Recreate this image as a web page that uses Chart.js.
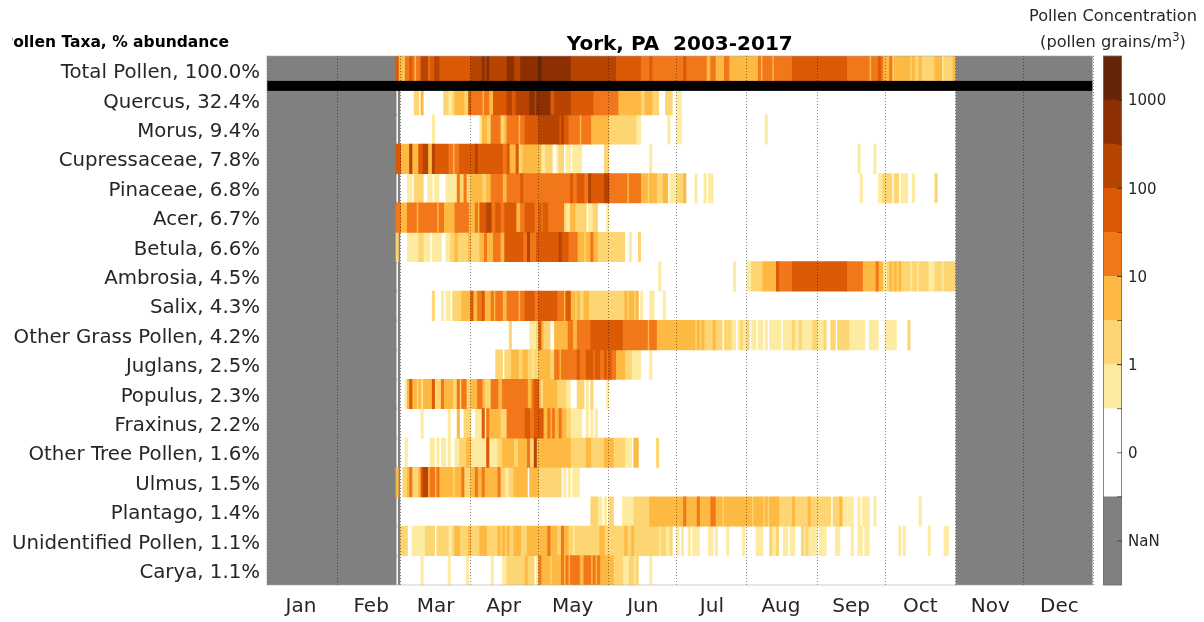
<!DOCTYPE html>
<html><head><meta charset="utf-8">
<script src="https://cdn.jsdelivr.net/npm/chart.js@4/dist/chart.umd.min.js"></script>
<style>
html,body{margin:0;padding:0;background:#fff;width:1204px;height:622px;overflow:hidden;font-family:"DejaVu Sans";color:#262626}
canvas{position:absolute}
.t{position:absolute;white-space:nowrap}
</style></head><body>
<canvas id="main" width="1204" height="622" style="left:0;top:0;width:1204px;height:622px"></canvas>
<canvas id="bar" width="101" height="541" style="left:1103px;top:50px;width:101px;height:541px"></canvas>
<div class="t" style="left:12px;top:31px;width:217px;height:24px;overflow:hidden;"><span id="hdr" style="position:absolute;right:0;top:2px;font:bold 15.5px 'DejaVu Sans';color:#000">Pollen Taxa, % abundance</span></div>
<div class="t" style="left:1013px;width:200px;text-align:center;top:6px;font-size:16.2px;color:#262626">Pollen Concentration</div>
<div class="t" style="left:1013px;width:200px;text-align:center;top:32px;font-size:16.2px;line-height:20px;color:#262626">(pollen grains/m<sup style="font-size:11.5px;line-height:0">3</sup>)</div>
<script>
const taxa = ["Total Pollen, 100.0%","Quercus, 32.4%","Morus, 9.4%","Cupressaceae, 7.8%","Pinaceae, 6.8%","Acer, 6.7%","Betula, 6.6%","Ambrosia, 4.5%","Salix, 4.3%","Other Grass Pollen, 4.2%","Juglans, 2.5%","Populus, 2.3%","Fraxinus, 2.2%","Other Tree Pollen, 1.6%","Ulmus, 1.5%","Plantago, 1.4%","Unidentified Pollen, 1.1%","Carya, 1.1%"];
const months = ["Jan","Feb","Mar","Apr","May","Jun","Jul","Aug","Sep","Oct","Nov","Dec"];
const monthStarts = [0,31,59,90,120,151,181,212,243,273,304,334,365];
const monthMids = [15,46,74.5,104.5,135,166,196.5,227,258,288.5,319.5,350];
const barLabels = ["NaN","0","1","10","100","1000"];
const levelColors = {"-1":"#808080",0:"#ffffff",1:"#FEEBA2",2:"#FDD573",3:"#FEB943",4:"#F2771B",5:"#DC5A05",6:"#B84402",7:"#8C3003",8:"#662506"};
/* each run: [first day of year, colour level]; a run lasts until the next one. -1 = NaN, 0 = zero */
const nanBefore = [0,57], nanAfter = [304,365];
const totalRuns = [[57,5],[58,3],[60,2],[61,4],[63,5],[64,4],[65,3],[66,4],[68,6],[71,4],[72,5],[74,6],[76,5],[90,6],[95,7],[96,6],[97,7],[98,6],[106,7],[109,6],[112,7],[120,8],[121,7],[134,6],[154,5],[165,4],[169,5],[170,4],[184,5],[185,4],[194,3],[196,4],[198,3],[202,4],[204,3],[217,4],[218,3],[219,4],[223,3],[224,4],[232,5],[256,4],[266,3],[267,4],[270,5],[271,4],[272,3],[275,4],[276,2],[277,3],[284,2],[285,3],[286,2],[288,3],[289,2],[295,3],[298,1],[299,2],[303,3],[304,0]];
const quercusRuns = [[58,-1],[59,0],[65,2],[67,0],[68,3],[69,0],[78,2],[80,1],[82,2],[83,3],[87,2],[89,5],[90,4],[95,3],[96,4],[98,3],[100,5],[106,6],[108,5],[110,6],[116,7],[118,6],[119,7],[125,5],[127,6],[134,5],[144,4],[155,3],[165,2],[167,3],[170,2],[173,0],[176,2],[179,0],[181,1],[183,0]];
const morusRuns = [[58,-1],[59,0],[73,1],[74,0],[94,1],[95,3],[97,2],[99,4],[103,2],[105,3],[106,4],[111,3],[112,4],[114,5],[120,6],[129,5],[130,6],[131,5],[133,4],[138,3],[139,4],[143,3],[151,2],[163,1],[165,0],[177,1],[178,0],[181,1],[183,0],[220,1],[221,0]];
const cupressaceaeRuns = [[57,5],[59,3],[63,6],[64,3],[67,5],[69,6],[71,3],[73,6],[74,5],[80,4],[82,3],[83,4],[85,5],[92,6],[93,5],[104,4],[106,5],[107,3],[110,5],[111,2],[113,3],[121,1],[123,2],[126,0],[128,1],[129,2],[131,0],[132,1],[134,0],[135,1],[139,0],[149,2],[151,0],[169,1],[170,0],[261,1],[262,0],[268,1],[269,0]];
const pinaceaeRuns = [[58,-1],[59,0],[62,1],[64,0],[65,2],[69,0],[71,1],[73,0],[74,1],[76,0],[79,1],[84,4],[85,2],[87,4],[88,2],[90,3],[95,2],[97,3],[99,4],[104,3],[106,4],[112,5],[113,4],[134,5],[135,4],[137,5],[140,4],[142,6],[143,5],[149,6],[151,4],[159,3],[160,4],[165,3],[168,2],[169,3],[172,2],[175,3],[177,0],[178,1],[181,2],[184,3],[185,0],[189,1],[190,0],[193,1],[194,0],[195,1],[197,0],[262,1],[263,0],[270,1],[272,2],[276,0],[277,2],[279,0],[280,1],[283,0],[285,1],[286,0],[295,2],[296,0]];
const acerRuns = [[57,4],[59,3],[62,4],[66,3],[67,4],[75,3],[76,4],[78,3],[83,4],[89,3],[92,4],[93,3],[94,5],[97,6],[99,4],[101,5],[103,4],[105,5],[110,3],[112,4],[114,5],[118,4],[120,5],[121,4],[122,5],[124,4],[131,2],[132,1],[134,3],[136,2],[141,0],[142,1],[144,2],[146,0],[150,1],[151,0]];
const betulaRuns = [[57,2],[58,-1],[59,0],[62,1],[67,2],[69,1],[72,0],[73,1],[77,0],[79,1],[81,2],[83,3],[84,2],[89,3],[90,2],[94,3],[96,4],[97,3],[100,4],[103,3],[105,5],[113,4],[115,6],[116,4],[119,5],[129,6],[130,5],[133,4],[137,3],[140,2],[141,3],[143,4],[144,3],[146,2],[158,0],[160,1],[161,0],[164,2],[165,0]];
const ambrosiaRuns = [[58,-1],[59,0],[173,1],[174,0],[206,1],[207,0],[212,1],[214,2],[219,3],[225,5],[226,4],[232,5],[256,4],[263,3],[269,4],[270,3],[272,1],[274,2],[275,3],[276,2],[277,3],[278,2],[279,3],[280,2],[284,1],[285,2],[287,1],[288,2],[292,1],[295,2],[298,1],[299,2],[304,0]];
const salixRuns = [[58,-1],[59,0],[73,2],[74,0],[77,1],[78,0],[79,1],[81,0],[82,2],[86,3],[90,5],[91,3],[93,4],[95,5],[96,3],[99,4],[100,3],[101,4],[104,3],[106,4],[111,3],[112,4],[114,5],[118,4],[120,5],[128,4],[131,3],[132,5],[134,3],[136,2],[137,3],[138,2],[140,3],[142,2],[158,3],[159,2],[160,3],[162,2],[163,3],[164,0],[165,1],[166,0],[169,1],[171,0],[175,1],[176,0]];
const otherGrassRuns = [[58,-1],[59,0],[107,2],[108,0],[116,1],[119,2],[120,5],[121,3],[122,2],[125,0],[127,3],[133,4],[135,3],[137,4],[143,5],[157,4],[168,3],[169,4],[172,3],[189,2],[190,3],[191,2],[192,3],[193,2],[197,3],[198,2],[201,0],[202,2],[205,1],[207,0],[208,1],[209,2],[210,1],[212,2],[213,0],[214,1],[216,0],[217,1],[219,0],[220,1],[221,0],[222,1],[227,0],[228,1],[232,2],[233,1],[235,2],[236,1],[241,2],[243,1],[246,2],[247,0],[249,2],[251,0],[252,2],[257,1],[264,0],[266,1],[270,0],[273,1],[278,0],[283,2],[284,0]];
const juglansRuns = [[58,-1],[59,0],[101,2],[104,0],[105,2],[108,3],[111,2],[113,3],[115,2],[117,1],[118,2],[120,3],[125,2],[127,4],[129,3],[130,4],[137,5],[138,4],[141,5],[144,4],[145,5],[147,4],[149,5],[150,4],[151,5],[152,4],[154,3],[158,2],[161,1],[165,0],[169,1],[170,0]];
const populusRuns = [[58,-1],[59,0],[61,1],[62,3],[63,5],[64,3],[66,2],[67,3],[68,1],[69,3],[73,5],[74,2],[77,4],[78,3],[82,2],[84,4],[85,2],[86,4],[88,2],[90,3],[93,4],[95,3],[96,2],[99,4],[102,3],[104,4],[115,3],[117,4],[118,5],[120,3],[121,1],[122,3],[128,2],[132,1],[134,0],[137,2],[140,0],[141,1],[142,0],[143,2],[144,0],[150,1],[151,0]];
const fraxinusRuns = [[58,-1],[59,0],[68,1],[69,0],[80,1],[81,0],[84,3],[85,0],[87,2],[90,0],[92,1],[95,5],[96,1],[97,4],[98,3],[103,2],[106,4],[114,5],[116,4],[118,5],[122,3],[124,4],[125,3],[126,4],[127,3],[129,4],[130,3],[132,2],[134,1],[139,0],[141,1],[142,0],[143,1],[144,0],[145,1],[146,0]];
const otherTreeRuns = [[58,-1],[59,0],[61,1],[62,0],[72,1],[74,0],[75,1],[76,0],[77,1],[79,0],[80,1],[81,0],[83,1],[85,2],[88,3],[90,1],[97,5],[98,1],[102,2],[104,3],[109,2],[111,3],[115,4],[116,2],[118,6],[119,3],[134,2],[141,3],[143,2],[149,3],[153,2],[158,1],[161,0],[162,3],[164,0],[172,2],[173,0]];
const ulmusRuns = [[57,3],[58,-1],[59,0],[60,2],[62,3],[63,4],[64,2],[67,3],[68,5],[69,6],[71,3],[72,4],[74,3],[75,4],[76,3],[82,2],[83,3],[86,4],[87,2],[90,3],[92,4],[93,3],[95,4],[96,3],[102,4],[103,2],[105,1],[107,2],[109,3],[115,0],[116,3],[120,2],[130,0],[131,1],[132,0],[133,1],[134,0],[135,1],[138,0]];
const plantagoRuns = [[58,-1],[59,0],[143,2],[146,1],[148,0],[149,1],[150,0],[151,2],[153,0],[157,1],[162,2],[169,3],[184,4],[185,3],[190,4],[191,3],[196,4],[198,3],[201,2],[202,3],[214,2],[215,3],[219,2],[220,3],[221,2],[222,3],[226,2],[232,3],[233,2],[239,3],[240,2],[249,0],[250,2],[253,3],[254,1],[259,0],[261,1],[262,0],[263,1],[266,0],[268,1],[269,0],[288,1],[289,0]];
const unidentifiedRuns = [[58,-1],[59,2],[62,0],[64,1],[70,2],[74,0],[75,2],[80,1],[82,2],[83,3],[85,2],[89,3],[90,2],[94,3],[97,2],[102,3],[103,2],[104,3],[105,2],[106,3],[107,2],[109,3],[112,2],[115,3],[124,4],[125,3],[128,2],[130,4],[131,3],[133,2],[135,1],[136,2],[147,3],[149,2],[158,3],[159,2],[161,3],[162,2],[173,1],[174,2],[176,1],[178,2],[179,0],[181,1],[182,0],[183,1],[184,0],[186,1],[187,0],[188,1],[191,0],[195,1],[197,0],[198,1],[199,0],[203,1],[204,0],[210,1],[211,0],[216,1],[219,0],[222,2],[223,1],[225,2],[226,0],[228,1],[230,0],[231,1],[233,0],[236,2],[237,1],[238,2],[239,1],[243,0],[244,1],[247,0],[251,1],[253,0],[258,1],[259,0],[261,1],[263,0],[264,1],[266,0],[279,1],[280,0],[281,1],[282,0],[292,1],[293,0],[299,1],[301,0]];
const caryaRuns = [[58,-1],[59,0],[68,1],[69,0],[80,1],[81,0],[88,1],[89,0],[99,1],[100,0],[104,1],[106,2],[114,3],[115,2],[118,0],[119,1],[120,4],[121,3],[125,2],[126,3],[130,4],[131,3],[132,4],[133,3],[134,4],[138,3],[140,4],[143,3],[144,4],[145,3],[146,4],[147,3],[153,2],[157,1],[160,2],[162,1],[163,2],[164,0],[169,1],[170,0]];
const rowRuns = [totalRuns,quercusRuns,morusRuns,cupressaceaeRuns,pinaceaeRuns,acerRuns,betulaRuns,ambrosiaRuns,salixRuns,otherGrassRuns,juglansRuns,populusRuns,fraxinusRuns,otherTreeRuns,ulmusRuns,plantagoRuns,unidentifiedRuns,caryaRuns];

const perLevel = {};
[8,7,6,5,4,3,2,1,0,-1].forEach(l => perLevel[l] = []);
rowRuns.forEach((runs,r) => {
  perLevel[-1].push({x:nanBefore,y:taxa[r]},{x:nanAfter,y:taxa[r]});
  runs.forEach((run,i) => {
    const end = i+1<runs.length ? runs[i+1][0] : nanAfter[0];
    if (end>run[0]) perLevel[run[1]].push({x:[run[0],end],y:taxa[r]});
  });
});
const datasets = [8,7,6,5,4,3,2,1,0,-1].map(l => ({
  data: perLevel[l], backgroundColor: levelColors[l], borderWidth:0, grouped:false,
  barPercentage: l===-1?1.08:1, categoryPercentage:1, inflateAmount: 0.4
}));

const frame = {
  id:'frame',
  afterDraw(c){
    const {ctx,chartArea:a,scales:s}=c;
    ctx.save();
    ctx.fillStyle='#000';
    const yb=(s.y.getPixelForValue(0)+s.y.getPixelForValue(1))/2;
    ctx.fillRect(a.left,yb-4.5,a.right-a.left,10);
    ctx.strokeStyle='rgba(170,170,170,.6)';
    ctx.lineWidth=1;
    ctx.strokeRect(a.left,a.top,a.right-a.left,a.bottom-a.top);
    ctx.restore();
  }
};
new Chart(document.getElementById('main'),{
  type:'bar',
  data:{labels:taxa,datasets},
  plugins:[frame],
  options:{
    indexAxis:'y',responsive:false,animation:false,
    layout:{padding:{left:0,top:0,right:111.5,bottom:0}},
    plugins:{legend:{display:false},tooltip:{enabled:false},
      title:{display:true,text:'York, PA  2003-2017',fullSize:false,color:'#000',
        font:{family:'DejaVu Sans',size:20,weight:'bold',lineHeight:1},padding:{top:35,bottom:1}}},
    scales:{
      y:{type:'category',grid:{display:false},border:{display:false},
        ticks:{autoSkip:false,color:'#262626',font:{family:'DejaVu Sans',size:19.75},padding:-1,labelOffset:2.5},
        afterFit(s){s.width=267;}},
      x:{type:'linear',position:'bottom',min:0,max:364.6,
        grid:{display:false,drawTicks:false},border:{display:false},
        afterBuildTicks(s){s.ticks=monthMids.map(v=>({value:v}));},
        ticks:{autoSkip:false,maxRotation:0,color:'#262626',padding:10,
          font:{family:'DejaVu Sans',size:20},callback:(v,i)=>months[i]},
        afterFit(s){s.height=37;}},
      x2:{type:'linear',axis:'x',position:'bottom',min:0,max:364.6,
        grid:{color:'rgba(0,0,0,.45)',lineWidth:1,z:1,drawTicks:false},border:{display:false,dash:[1,2]},
        afterBuildTicks(s){s.ticks=monthStarts.map(v=>({value:v}));},
        ticks:{display:false},afterFit(s){s.height=0;}}
    }
  }
});

const barEdges=[2,4,5,6,7,8,9,10,11];
const barBlocks=[[0,2],[2,4],[4,5],[5,6],[6,7],[7,8],[8,9],[9,10],[10,11],[11,12]];
const blockColors=["#808080","#ffffff","#FEEBA2","#FDD573","#FEB943","#F2771B","#DC5A05","#B84402","#8C3003","#662506"];
const barTicks=[1,3,5,7,9,11];
const barFrame={
  id:'barFrame',
  afterDraw(c){
    const {ctx,chartArea:a,scales:s}=c;
    ctx.save();
    ctx.strokeStyle='rgba(110,110,110,.85)';ctx.lineWidth=1;
    ctx.strokeRect(a.left+.5,a.top,a.right-a.left-1,a.bottom-a.top);
    ctx.strokeStyle='rgba(50,50,50,.7)';
    barEdges.concat(barTicks).forEach(v=>{
      const y=s.y.getPixelForValue(v);
      ctx.beginPath();ctx.moveTo(a.right-5,y);ctx.lineTo(a.right,y);ctx.stroke();
    });
    ctx.restore();
  }
};
new Chart(document.getElementById('bar'),{
  type:'bar',
  data:{labels:['c'],datasets:barBlocks.map((b,i)=>({data:[b],backgroundColor:blockColors[i],borderWidth:0,grouped:false,barPercentage:1,categoryPercentage:1}))},
  plugins:[barFrame],
  options:{
    responsive:false,animation:false,
    layout:{padding:{top:6,bottom:6,left:0,right:0}},
    plugins:{legend:{display:false},tooltip:{enabled:false}},
    scales:{
      x:{display:false},
      y:{type:'linear',position:'right',min:0,max:12,grid:{display:false,drawTicks:false},border:{display:false},
        afterBuildTicks(s){s.ticks=barTicks.map(v=>({value:v}));},
        ticks:{autoSkip:false,color:'#262626',padding:6,font:{family:'DejaVu Sans',size:15},labelOffset:1.5,callback:(v,i)=>barLabels[i]},
        afterFit(s){s.width=82;s.paddingTop=0;s.paddingBottom=0;}}
    }
  }
});
</script></body></html>
